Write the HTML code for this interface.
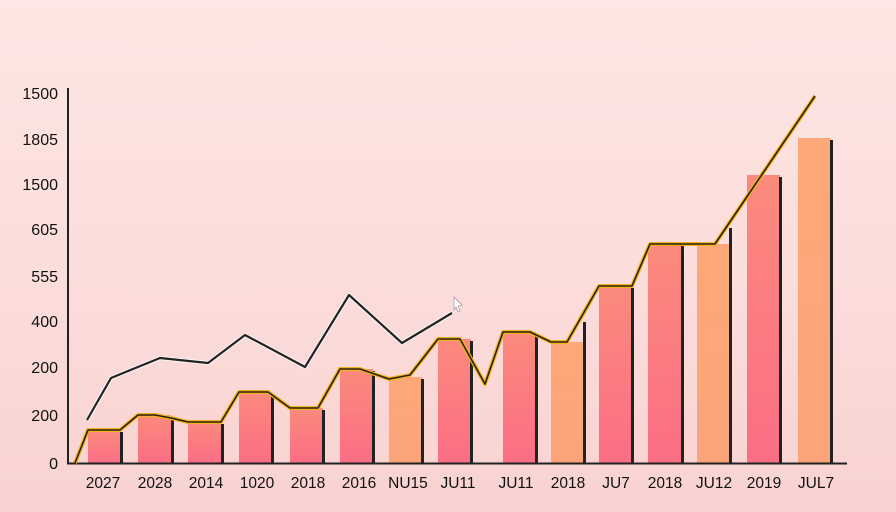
<!DOCTYPE html>
<html><head><meta charset="utf-8"><style>
html,body{margin:0;padding:0;}
body{width:896px;height:512px;overflow:hidden;background:linear-gradient(180deg,#fde6e3 0%,#fbdcda 60%,#f8d2d0 100%);font-family:"Liberation Sans",sans-serif;}
svg{display:block;}
</style></head><body>
<svg width="896" height="512" viewBox="0 0 896 512" xmlns="http://www.w3.org/2000/svg">
<defs>
<linearGradient id="c" x1="0" y1="0" x2="0" y2="1"><stop offset="0" stop-color="#fb8a7c"/><stop offset="1" stop-color="#fb6e85"/></linearGradient>
<linearGradient id="o" x1="0" y1="0" x2="0" y2="1"><stop offset="0" stop-color="#fca878"/><stop offset="1" stop-color="#fba47a"/></linearGradient>
</defs>
<g>
<g stroke="none">
<rect x="88" y="430" width="33" height="33" fill="url(#c)"/><rect x="120" y="432" width="3" height="31" fill="#222"/>
<rect x="138" y="415" width="33" height="48" fill="url(#c)"/><rect x="171" y="417" width="3" height="46" fill="#222"/>
<rect x="188" y="422" width="33" height="41" fill="url(#c)"/><rect x="221" y="424" width="3" height="39" fill="#222"/>
<rect x="239" y="392" width="33" height="71" fill="url(#c)"/><rect x="271" y="394" width="3" height="69" fill="#222"/>
<rect x="290" y="408" width="33" height="55" fill="url(#c)"/><rect x="322" y="410" width="3" height="53" fill="#222"/>
<rect x="340" y="369" width="33" height="94" fill="url(#c)"/><rect x="372" y="371" width="3" height="92" fill="#222"/>
<rect x="389" y="377" width="33" height="86" fill="url(#o)"/><rect x="421" y="379" width="3" height="84" fill="#222"/>
<rect x="438" y="339" width="33" height="124" fill="url(#c)"/><rect x="470" y="341" width="3" height="122" fill="#222"/>
<rect x="503" y="332" width="33" height="131" fill="url(#c)"/><rect x="535" y="334" width="3" height="129" fill="#222"/>
<rect x="551" y="342" width="33" height="121" fill="url(#o)"/><rect x="583" y="322" width="3" height="141" fill="#222"/>
<rect x="599" y="286" width="33" height="177" fill="url(#c)"/><rect x="631" y="288" width="3" height="175" fill="#222"/>
<rect x="648" y="244" width="33" height="219" fill="url(#c)"/><rect x="681" y="246" width="3" height="217" fill="#222"/>
<rect x="697" y="244" width="33" height="219" fill="url(#o)"/><rect x="729" y="228" width="3" height="235" fill="#222"/>
<rect x="747" y="175" width="33" height="288" fill="url(#c)"/><rect x="779" y="177" width="3" height="286" fill="#222"/>
<rect x="798" y="138" width="33" height="325" fill="url(#o)"/><rect x="830" y="140" width="3" height="323" fill="#222"/>
</g>
<line x1="68" y1="88" x2="68" y2="464" stroke="#222" stroke-width="2"/>
<line x1="67" y1="463.5" x2="847" y2="463.5" stroke="#222" stroke-width="2"/>
<polyline points="87,420 111,378 160,358 208,363 245,335 305,367 349,295 402,343 452,313" fill="none" stroke="#fff" stroke-width="4" stroke-linejoin="round" opacity="0.8"/>
<polyline points="87,420 111,378 160,358 208,363 245,335 305,367 349,295 402,343 452,313" fill="none" stroke="#222" stroke-width="2.2" stroke-linejoin="round"/>
<path d="M454,297 l8,8 l-4,1 l2,5 l-2,1 l-2,-5 l-2,3 z" fill="#fff" stroke="#888" stroke-width="0.6"/>
<polyline points="75,463 88,430 120,430 138,415 155,415 171,418 188,422 221,422 239,392 268,392 290,408 318,408 340,369 360,369 389,379 410,375 438,339 460,339 485,384 503,332 530,332 551,342 567,342 599,286 632,286 650,244 715,244 815,96" fill="none" stroke="#f2b21e" stroke-width="4" stroke-linejoin="round"/>
<polyline points="75,463 88,430 120,430 138,415 155,415 171,418 188,422 221,422 239,392 268,392 290,408 318,408 340,369 360,369 389,379 410,375 438,339 460,339 485,384 503,332 530,332 551,342 567,342 599,286 632,286 650,244 715,244 815,96" fill="none" stroke="#2a2010" stroke-width="1.6" stroke-linejoin="round"/>
<g font-size="16" fill="#111" text-anchor="end">
<text x="58" y="99">1500</text>
<text x="58" y="145">1805</text>
<text x="58" y="190">1500</text>
<text x="58" y="235">605</text>
<text x="58" y="282">555</text>
<text x="58" y="327">400</text>
<text x="58" y="373">200</text>
<text x="58" y="421">200</text>
<text x="58" y="469">0</text>
</g>
<g font-size="15.5" fill="#111" text-anchor="middle">
<text x="103" y="488">2027</text>
<text x="155" y="488">2028</text>
<text x="206" y="488">2014</text>
<text x="257" y="488">1020</text>
<text x="308" y="488">2018</text>
<text x="359" y="488">2016</text>
<text x="408" y="488">NU15</text>
<text x="458" y="488">JU11</text>
<text x="516" y="488">JU11</text>
<text x="568" y="488">2018</text>
<text x="616" y="488">JU7</text>
<text x="665" y="488">2018</text>
<text x="714" y="488">JU12</text>
<text x="764" y="488">2019</text>
<text x="816" y="488">JUL7</text>
</g>
</g>
</svg>
</body></html>
